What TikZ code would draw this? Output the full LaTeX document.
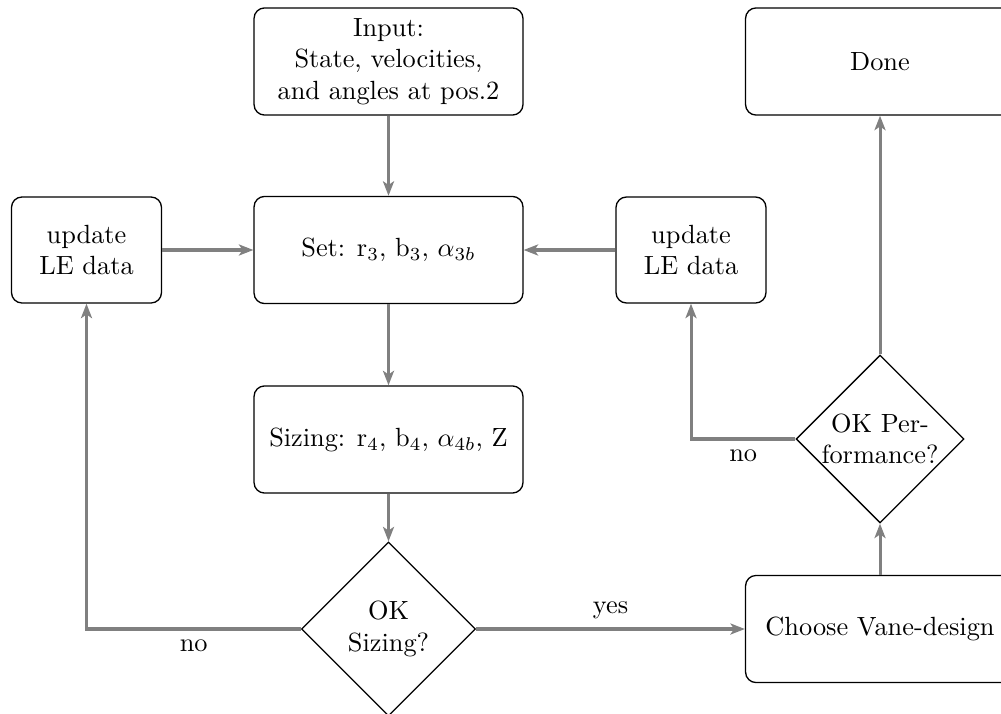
\documentclass[tikz,border=0pt]{standalone}
\usetikzlibrary{shapes.geometric,arrows.meta}
\begin{document}
\begin{tikzpicture}[x=0.38pt,y=-0.38pt,
  stepbox/.style={draw,line width=0.5pt,rounded corners=4pt,align=center,
    minimum width=102.2pt,minimum height=40.7pt,inner sep=2pt},
  smallbox/.style={stepbox,minimum width=57pt,minimum height=40.3pt},
  decision/.style={draw,line width=0.5pt,diamond,align=center,inner sep=0pt},
  flow/.style={draw=gray,line width=1.15pt,
    -{Stealth[length=5.5pt,width=4.2pt,inset=1.4pt]}},
  lbl/.style={text=black}]
  % page frame
  \path[use as bounding box] (0,0) rectangle (1001,713);
  \clip (0,0) rectangle (1001,713);

  % boxes
  \node[stepbox] (input) at (388.5,61.5) {Input:\\State, velocities,\\and angles at pos.2};
  \node[stepbox] (done) at (880,61.5) {Done};
  \node[stepbox] (set) at (388.5,250) {Set: r$_3$, b$_3$, $\alpha_{3b}$};
  \node[smallbox] (updL) at (86.5,250) {update\\LE data};
  \node[smallbox] (updR) at (691,250) {update\\LE data};
  \node[stepbox] (sizing) at (388.5,439.5) {Sizing: r$_4$, b$_4$, $\alpha_{4b}$, Z};
  \node[decision,minimum width=66.1pt,minimum height=66.1pt] (oksize) at (388.5,629) {OK\\Sizing?};
  \node[stepbox] (vane) at (880,629) {Choose Vane-design};
  \node[decision,minimum width=63.8pt,minimum height=63.8pt] (okperf) at (880,439) {OK Per-\\formance?};

  % connectors
  \draw[flow] (input) -- (set);
  \draw[flow] (updL) -- (set);
  \draw[flow] (updR) -- (set);
  \draw[flow] (set) -- (sizing);
  \draw[flow] (sizing) -- (oksize);
  \draw[flow] (oksize.west) -| node[lbl,below,pos=0.25] {no} (updL.south);
  \draw[flow] (oksize.east) -- node[lbl,above,midway] {yes} (vane.west);
  \draw[flow] (vane) -- (okperf);
  \draw[flow] (okperf.west) -| node[lbl,below,pos=0.25] {no} (updR.south);
  \draw[flow] (okperf) -- (done);
\end{tikzpicture}
\end{document}
